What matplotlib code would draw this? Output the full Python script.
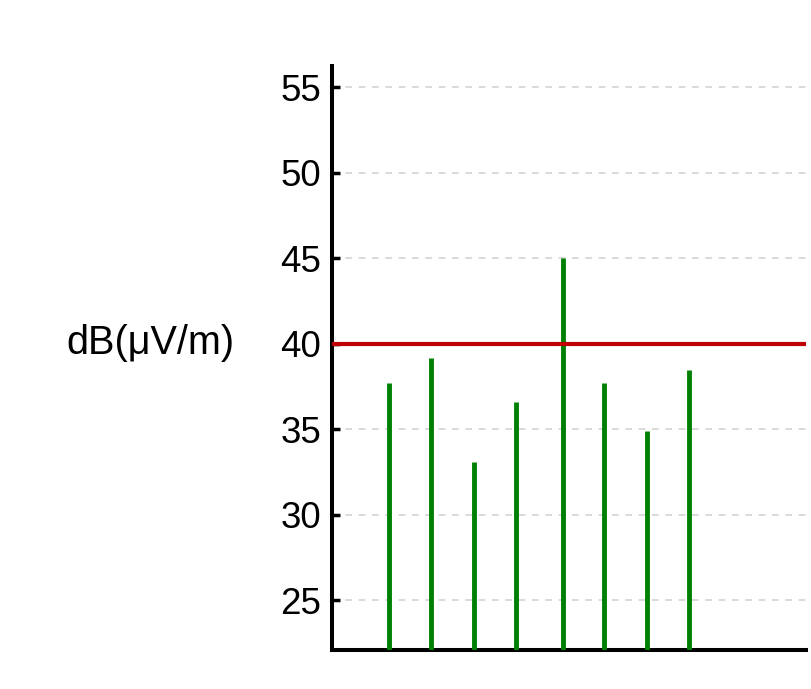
import matplotlib
matplotlib.use("Agg")
import matplotlib.pyplot as plt

# data
positions = [1.32, 2.30, 3.30, 4.28, 5.35, 6.32, 7.32, 8.28]
levels = [37.7, 39.2, 33.1, 36.6, 45.0, 37.7, 34.9, 38.5]
limit = 40
yticks = [25, 30, 35, 40, 45, 50, 55]
ylabel = "dB(\u03bcV/m)"

plt.rcParams['font.family'] = ['Liberation Sans', 'DejaVu Sans']

fig = plt.figure(figsize=(8.12, 6.89), dpi=100)
ax = fig.add_axes([332/812, 1-650/689, (806-332)/812, (650-66)/689])
ymin, ymax = 22.1, 56.25
ax.set_ylim(ymin, ymax)
ax.set_xlim(0, 11)

ax.set_yticks(yticks)
ax.set_xticks([])
ax.grid(axis='y', color='#d3d3d3', linestyle=(0, (4, 4)), linewidth=1.2)
ax.set_axisbelow(True)

ax.vlines(positions, ymin, levels, colors='#008000', linewidth=3.5, zorder=3)
ax.axhline(limit, color='#c00000', linewidth=3.0, zorder=4)

for s in ['top', 'right']:
    ax.spines[s].set_visible(False)
for s in ['left', 'bottom']:
    ax.spines[s].set_linewidth(2.9)
ax.tick_params(axis='y', direction='in', length=6, width=2.5, labelsize=26.5, pad=8)

ax.set_ylabel(ylabel, rotation=0, fontsize=28.5, ha='center', va='center')
ax.yaxis.set_label_coords(-0.384, (650-343)/584)

fig.savefig("out.png", dpi=100)
